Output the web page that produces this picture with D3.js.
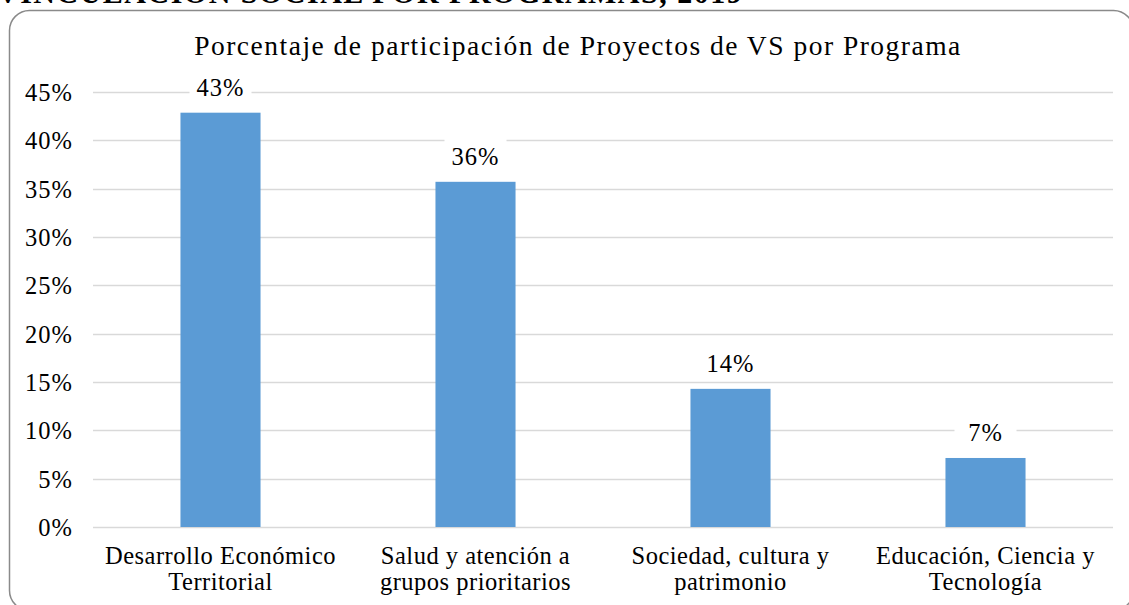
<!DOCTYPE html>
<html>
<head>
<meta charset="utf-8">
<script src="https://cdn.jsdelivr.net/npm/d3@7"></script>
<style>
  html, body { margin: 0; padding: 0; background: #fff; overflow: hidden; }
</style>
</head>
<body>
<svg id="chart" width="1129" height="605"></svg>
<script>
const categories = [
  ["Desarrollo Económico", "Territorial"],
  ["Salud y atención a", "grupos prioritarios"],
  ["Sociedad, cultura y", "patrimonio"],
  ["Educación, Ciencia y", "Tecnología"]
];
const values = [0.4286, 0.3571, 0.1429, 0.0714];
const valueLabels = ["43%", "36%", "14%", "7%"];
const yTicks = [0, 0.05, 0.10, 0.15, 0.20, 0.25, 0.30, 0.35, 0.40, 0.45];
const chartTitle = "Porcentaje de participación de Proyectos de VS por Programa";
const pageHeading = "VINCULACIÓN SOCIAL POR PROGRAMAS, 2019";

const FONT = '"Liberation Serif", "Times New Roman", Tinos, serif';
const svg = d3.select("#chart");

// clipped heading above the chart (only its lower edge shows, as in the reference)
svg.append("text")
  .attr("x", -3).attr("y", 3)
  .attr("font-size", 30).attr("font-weight", "bold")
  .style("font-family", FONT).style("letter-spacing", "1.5px")
  .text(pageHeading);

// chart frame
svg.append("rect")
  .attr("x", 9.5).attr("y", 10.5)
  .attr("width", 1124).attr("height", 600)
  .attr("rx", 20).attr("ry", 20)
  .attr("fill", "#fff")
  .attr("stroke", "#8a8a8a").attr("stroke-width", 1.5);

const plot = { left: 93, right: 1113, top: 92, bottom: 527 };

const x = d3.scaleBand()
  .domain(d3.range(categories.length))
  .range([plot.left, plot.right])
  .paddingInner(0.686).paddingOuter(0.343);

const y = d3.scaleLinear().domain([0, 0.45]).range([plot.bottom, plot.top]);

// gridlines
svg.append("g").selectAll("line").data(yTicks).join("line")
  .attr("x1", plot.left).attr("x2", plot.right)
  .attr("y1", d => Math.round(y(d)) + 0.5).attr("y2", d => Math.round(y(d)) + 0.5)
  .attr("stroke", "#d9d9d9").attr("stroke-width", 1.5);

// y axis labels via d3 axis
const yAxis = svg.append("g")
  .attr("transform", `translate(${plot.left - 20},0)`)
  .call(d3.axisLeft(y).tickValues(yTicks).tickFormat(d3.format(".0%")).tickSize(0).tickPadding(0));
yAxis.attr("font-family", null).attr("font-size", null);
yAxis.select(".domain").remove();
yAxis.selectAll("text")
  .attr("font-size", 24.5)
  .attr("dy", "0.34em")
  .style("font-family", FONT).style("letter-spacing", "1px")
  .attr("fill", "#000");

// bars
svg.append("g").selectAll("rect").data(values).join("rect")
  .attr("x", (d, i) => x(i))
  .attr("y", d => y(d))
  .attr("width", x.bandwidth())
  .attr("height", d => y(0) - y(d))
  .attr("fill", "#5b9bd5");

// value labels with white background
const lbl = svg.append("g").selectAll("g").data(values).join("g")
  .attr("transform", (d, i) => `translate(${x(i) + x.bandwidth() / 2},${y(d) - 17})`);
lbl.append("rect")
  .attr("x", -31).attr("y", -26).attr("width", 62).attr("height", 32)
  .attr("fill", "#fff");
lbl.append("text")
  .attr("text-anchor", "middle")
  .attr("font-size", 24.5)
  .style("font-family", FONT).style("letter-spacing", "1px")
  .text((d, i) => valueLabels[i]);

// category labels
const cat = svg.append("g").selectAll("text").data(categories).join("text")
  .attr("text-anchor", "middle")
  .attr("font-size", 24.5)
  .style("font-family", FONT).style("letter-spacing", "0.5px");
cat.selectAll("tspan").data((d, i) => d.map(s => ({ s, i }))).join("tspan")
  .attr("x", d => x(d.i) + x.bandwidth() / 2)
  .attr("y", (d, j) => 564 + j * 26)
  .text(d => d.s);

// title
svg.append("text")
  .attr("x", 578).attr("y", 55)
  .attr("text-anchor", "middle")
  .attr("font-size", 27.5)
  .style("font-family", FONT).style("letter-spacing", "1.5px")
  .text(chartTitle);
</script>
</body>
</html>
